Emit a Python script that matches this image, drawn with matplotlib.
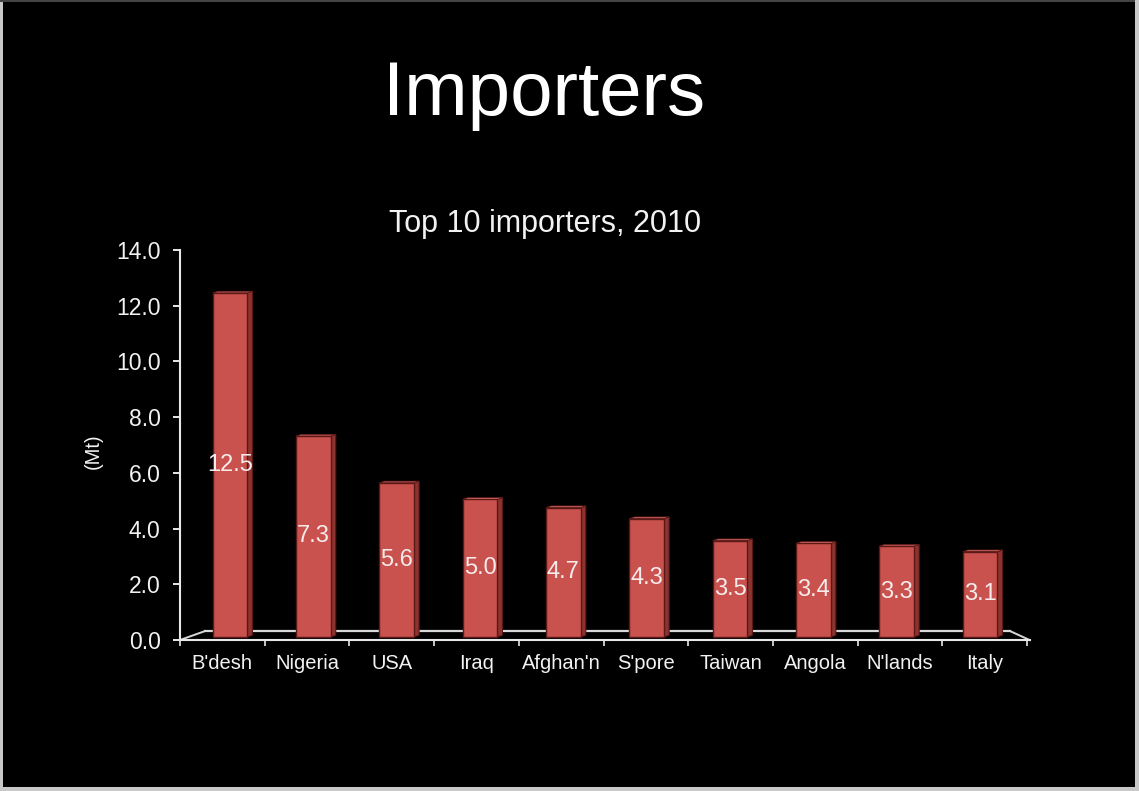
import matplotlib
matplotlib.use("Agg")
import matplotlib.pyplot as plt
from matplotlib.patches import Polygon, Rectangle
import numpy as np

# ---- data ----
categories = ["B'desh", "Nigeria", "USA", "Iraq", "Afghan'n", "S'pore",
              "Taiwan", "Angola", "N'lands", "Italy"]
values = [12.5, 7.3, 5.6, 5.0, 4.7, 4.3, 3.5, 3.4, 3.3, 3.1]
value_labels = ["12.5", "7.3", "5.6", "5.0", "4.7", "4.3", "3.5", "3.4", "3.3", "3.1"]
y_ticks = [0, 2, 4, 6, 8, 10, 12, 14]
title = "Importers"
subtitle = "Top 10 importers, 2010"
y_label = "(Mt)"

# ---- style ----
W, H = 1139, 791
DPI = 100
FONT = ["Liberation Sans", "DejaVu Sans"]
plt.rcParams["font.family"] = FONT
TXT = "#f2f2f2"
FRONT = "#c9514e"
SIDE = "#8c3330"
TOP = "#d86a67"
EDGE = "#5a1816"

# 3D-ish "back plane" projection parameters (data units)
PERSP = 0.984
OFF_X = 0.09
OFF_Y = 0.11
Y_SCALE = 0.988
BAR_W = 0.41
DEPTH_X = 0.06
DEPTH_Y = 0.06

fig = plt.figure(figsize=(W / DPI, H / DPI), dpi=DPI, facecolor="black")
ax = fig.add_axes([180 / W, 1 - 640 / H, 847 / W, 390 / H], facecolor="black")

n = len(categories)
idx = np.arange(n)
ax.set_xlim(-0.5, n - 0.5)
ax.set_ylim(0, 14)

# floor (back line + diagonals)
floor_depth = 0.32
xb0 = -0.5 + 0.295
xb1 = n - 0.5 - 0.2
ax.plot([xb0, xb1], [floor_depth, floor_depth], color="#d8d8d8", lw=1.6, zorder=1, clip_on=False)
ax.plot([-0.5, xb0], [0, floor_depth], color="#d8d8d8", lw=1.4, zorder=1, clip_on=False)
ax.plot([xb1, n - 0.5 + 0.03], [floor_depth, 0], color="#d8d8d8", lw=1.4, zorder=1, clip_on=False)

# bars
bx = OFF_X + PERSP * idx
heights = [v * Y_SCALE for v in values]
bars = ax.bar(bx, heights, bottom=OFF_Y, width=BAR_W, color=FRONT,
              edgecolor=EDGE, linewidth=1.0, zorder=3)
for b in bars:
    x0 = b.get_x()
    x1 = x0 + b.get_width()
    y0 = b.get_y()
    y1 = y0 + b.get_height()
    side = Polygon([(x1, y0), (x1 + DEPTH_X, y0 + DEPTH_Y),
                    (x1 + DEPTH_X, y1 + DEPTH_Y), (x1, y1)],
                   closed=True, facecolor=SIDE, edgecolor=EDGE, lw=0.8, zorder=2.9)
    top = Polygon([(x0, y1), (x0 + DEPTH_X, y1 + DEPTH_Y),
                   (x1 + DEPTH_X, y1 + DEPTH_Y), (x1, y1)],
                  closed=True, facecolor=TOP, edgecolor=EDGE, lw=0.5, zorder=2.9)
    ax.add_patch(side)
    ax.add_patch(top)

for b, lab in zip(bars, value_labels):
    cx = b.get_x() + b.get_width() / 2
    cy = b.get_y() + b.get_height() / 2
    ax.text(cx, cy, lab, ha="center", va="center", color="#f6ecec",
            fontsize=17, zorder=5)

# axes styling
for s in ["top", "right"]:
    ax.spines[s].set_visible(False)
for s in ["left", "bottom"]:
    ax.spines[s].set_color("#e8e8e8")
    ax.spines[s].set_linewidth(1.5)
ax.spines["bottom"].set_bounds(-0.5, n - 0.5 + 0.03)

ax.set_yticks(y_ticks)
ax.set_yticklabels([f"{t:.1f}" for t in y_ticks])
ax.tick_params(axis="y", colors="#e8e8e8", length=5, width=1.4, pad=9,
               labelsize=16.5, labelcolor=TXT)

ax.set_xticks(idx)
ax.set_xticklabels(categories)
ax.tick_params(axis="x", which="major", length=0, pad=10, labelsize=14.5, labelcolor=TXT)
ax.set_xticks(np.arange(-0.5, n, 1.0), minor=True)
ax.tick_params(axis="x", which="minor", length=4, width=1.2, color="#e8e8e8")

# y label
fig.text(93 / W, 1 - 451 / H, y_label, rotation=90, ha="center", va="center",
         color=TXT, fontsize=14.5)

# titles
fig.text(544 / W, 1 - 115 / H, title, ha="center", va="baseline", color="white", fontsize=55)
fig.text(545 / W, 1 - 232 / H, subtitle, ha="center", va="baseline", color=TXT, fontsize=22)

# light frame around the picture
frame = "#c8c8c8"
fig.add_artist(Rectangle((0, 0), 3 / W, 1, transform=fig.transFigure, color=frame, lw=0))
fig.add_artist(Rectangle((0, 1 - 1.5 / H), 1, 1.5 / H, transform=fig.transFigure, color="#444444", lw=0))
fig.add_artist(Rectangle((1 - 4 / W, 0), 4 / W, 1, transform=fig.transFigure, color=frame, lw=0))
fig.add_artist(Rectangle((0, 0), 1, 4 / H, transform=fig.transFigure, color=frame, lw=0))

fig.savefig("out.png", dpi=DPI, facecolor="black")
